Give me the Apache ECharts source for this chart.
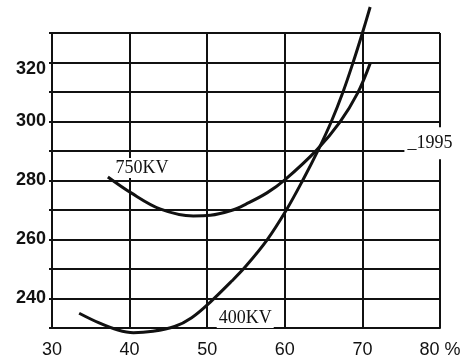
<!DOCTYPE html>
<html>
<head>
<meta charset="utf-8">
<script src="https://cdn.jsdelivr.net/npm/echarts@6/dist/echarts.min.js"></script>
<style>
  html, body { margin: 0; padding: 0; background: #fff; }
  #main { width: 471px; height: 362px; }
</style>
</head>
<body>
<div id="main"></div>
<script>
// 750KV curve
const x750 = [37.2, 40.2, 43.9, 48.2, 50.4, 53.3, 55, 57.7, 60, 64.1, 67.1, 69.4, 71];
const y750 = [281.2, 275.8, 270.4, 268, 268.2, 270, 272, 275.8, 280.2, 290.3, 299.8, 309.7, 319.7];

// 400KV curve
const x400 = [33.5, 36, 38.5, 40.5, 43, 45.8, 48, 50.4, 53.2, 55, 57.7, 60.2, 62.3, 64.3, 66, 67.5, 68.8, 70, 71];
const y400 = [235, 231.8, 229.3, 228.4, 228.9, 230.5, 233.5, 238.8, 246, 251, 259.8, 270, 280, 290.3, 300, 310, 320, 330, 338.8];

// text notes on the chart [x, y, text]
const notes = [
    [41.6, 284.2, '750KV'],
    [54.9, 233.4, '400KV'],
    [78.7, 292.6, '_1995']
];

const zip = (xs, ys) => xs.map((x, i) => [x, ys[i]]);

const chart = echarts.init(document.getElementById('main'));

const ink = '#111';

chart.setOption({
    animation: false,
    backgroundColor: '#fff',
    grid: {left: 52, right: 31, top: 33, bottom: 34},
    xAxis: {
        type: 'value',
        min: 30,
        max: 80,
        interval: 10,
        axisLine: {show: true, lineStyle: {color: ink, width: 2}},
        axisTick: {show: false},
        splitLine: {show: true, lineStyle: {color: ink, width: 2}},
        axisLabel: {
            color: ink,
            fontFamily: 'Liberation Sans',
            fontSize: 18,
            margin: 13,
            formatter: v => v === 80 ? '80 %' : String(v)
        }
    },
    yAxis: {
        type: 'value',
        min: 230,
        max: 330,
        interval: 10,
        axisLine: {show: true, lineStyle: {color: ink, width: 2}},
        axisTick: {show: true, length: 3, lineStyle: {color: ink, width: 2}},
        splitLine: {show: true, lineStyle: {color: ink, width: 2}},
        axisLabel: {
            color: ink,
            fontFamily: 'Liberation Sans',
            fontWeight: 'bold',
            fontSize: 18,
            margin: 6,
            formatter: v => v === 320 ? '{low|320}' : (v % 20 === 0 ? String(v) : ''),
            rich: {
                low: {
                    fontFamily: 'Liberation Sans',
                    fontWeight: 'bold',
                    fontSize: 18,
                    color: ink,
                    padding: [14, 0, 0, 0]
                }
            }
        }
    },
    series: [
        {
            name: '750KV',
            type: 'line',
            data: zip(x750, y750),
            smooth: 0.35,
            showSymbol: false,
            clip: false,
            lineStyle: {color: ink, width: 3}
        },
        {
            name: '400KV',
            type: 'line',
            data: zip(x400, y400),
            smooth: 0.35,
            showSymbol: false,
            clip: false,
            lineStyle: {color: ink, width: 3}
        },
        {
            type: 'scatter',
            data: notes,
            symbolSize: 0,
            clip: false,
            z: 5,
            itemStyle: {opacity: 1, color: ink},
            label: {
                show: true,
                position: 'inside',
                color: ink,
                opacity: 1,
                fontFamily: 'Liberation Serif',
                fontSize: 18,
                backgroundColor: '#fff',
                padding: [1, 2],
                formatter: p => p.value[2]
            }
        }
    ]
});

// the 1995 note blanks out a stretch of the right border
chart.setOption({
    series: [{}, {}, {
        data: notes.map((n, i) => i === 2 ? {
            value: n,
            label: {padding: [8, 3, 6, 3]}
        } : n)
    }]
});
</script>
</body>
</html>
